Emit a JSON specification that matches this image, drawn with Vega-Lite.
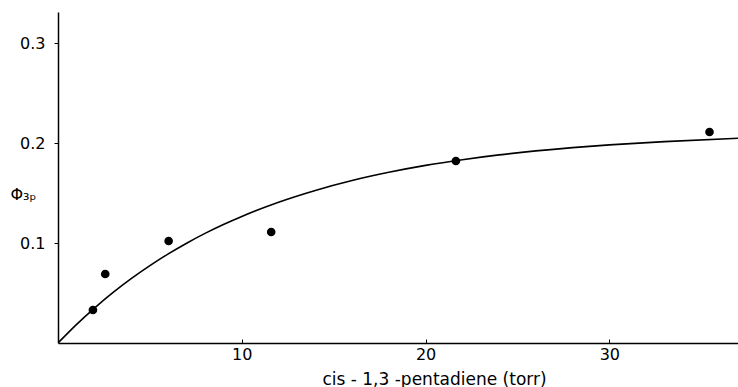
{
  "$schema": "https://vega.github.io/schema/vega-lite/v6.json",
  "width": 680,
  "height": 331,
  "autosize": {"type": "none"},
  "padding": {"left": 58, "top": 12, "right": 0, "bottom": 44},
  "background": "white",
  "config": {
    "view": {"stroke": null},
    "font": "DejaVu Sans",
    "axis": {
      "grid": false,
      "domainColor": "black",
      "domainWidth": 1.5,
      "tickColor": "black",
      "labelColor": "black",
      "titleColor": "black",
      "labelFont": "DejaVu Sans",
      "titleFont": "DejaVu Sans",
      "titleFontWeight": "normal"
    }
  },
  "datasets": {
    "points": [
      {"x": 1.9, "y": 0.033},
      {"x": 2.57, "y": 0.069},
      {"x": 6.02, "y": 0.102},
      {"x": 11.6, "y": 0.111},
      {"x": 21.65, "y": 0.182},
      {"x": 35.45, "y": 0.211}
    ],
    "curve": [
      {"x": 0, "y": 0},
      {"x": 1, "y": 0.0184},
      {"x": 2, "y": 0.0352},
      {"x": 3, "y": 0.0506},
      {"x": 4, "y": 0.0646},
      {"x": 5, "y": 0.0774},
      {"x": 6, "y": 0.0891},
      {"x": 7, "y": 0.0998},
      {"x": 8, "y": 0.1096},
      {"x": 9, "y": 0.1185},
      {"x": 10, "y": 0.1266},
      {"x": 12, "y": 0.1408},
      {"x": 14, "y": 0.1526},
      {"x": 16, "y": 0.1625},
      {"x": 18, "y": 0.1707},
      {"x": 20, "y": 0.1776},
      {"x": 22, "y": 0.1833},
      {"x": 24, "y": 0.1881},
      {"x": 26, "y": 0.1921},
      {"x": 28, "y": 0.1954},
      {"x": 30, "y": 0.1981},
      {"x": 33, "y": 0.2014},
      {"x": 37, "y": 0.2047}
    ]
  },
  "layer": [
    {
      "data": {"name": "curve"},
      "mark": {"type": "line", "color": "black", "strokeWidth": 1.6, "interpolate": "monotone", "clip": true},
      "encoding": {
        "x": {
          "field": "x", "type": "quantitative",
          "scale": {"domain": [0, 37.0], "nice": false, "zero": false},
          "axis": {
            "values": [10, 20, 30],
            "title": "cis - 1,3 -pentadiene (torr)",
            "titleFontSize": 17,
            "titleX": 376,
            "titleY": 41,
            "titleBaseline": "alphabetic",
            "titleAnchor": "middle",
            "labelFontSize": 16,
            "labelPadding": 7,
            "tickSize": -4,
            "labelFlush": false
          }
        },
        "y": {
          "field": "y", "type": "quantitative",
          "scale": {"domain": [0, 0.331], "nice": false},
          "axis": {
            "values": [0.1, 0.2, 0.3],
            "format": ".1f",
            "title": "Φ₃ₚ",
            "titleAngle": 0,
            "titleFontSize": 16,
            "titleX": -48,
            "titleY": 182,
            "titleAlign": "left",
            "titleBaseline": "middle",
            "labelFontSize": 16,
            "labelPadding": 9,
            "tickSize": 4
          }
        }
      }
    },
    {
      "data": {"name": "points"},
      "mark": {"type": "circle", "color": "black", "opacity": 1, "size": 75},
      "encoding": {
        "x": {"field": "x", "type": "quantitative"},
        "y": {"field": "y", "type": "quantitative"}
      }
    }
  ]
}
